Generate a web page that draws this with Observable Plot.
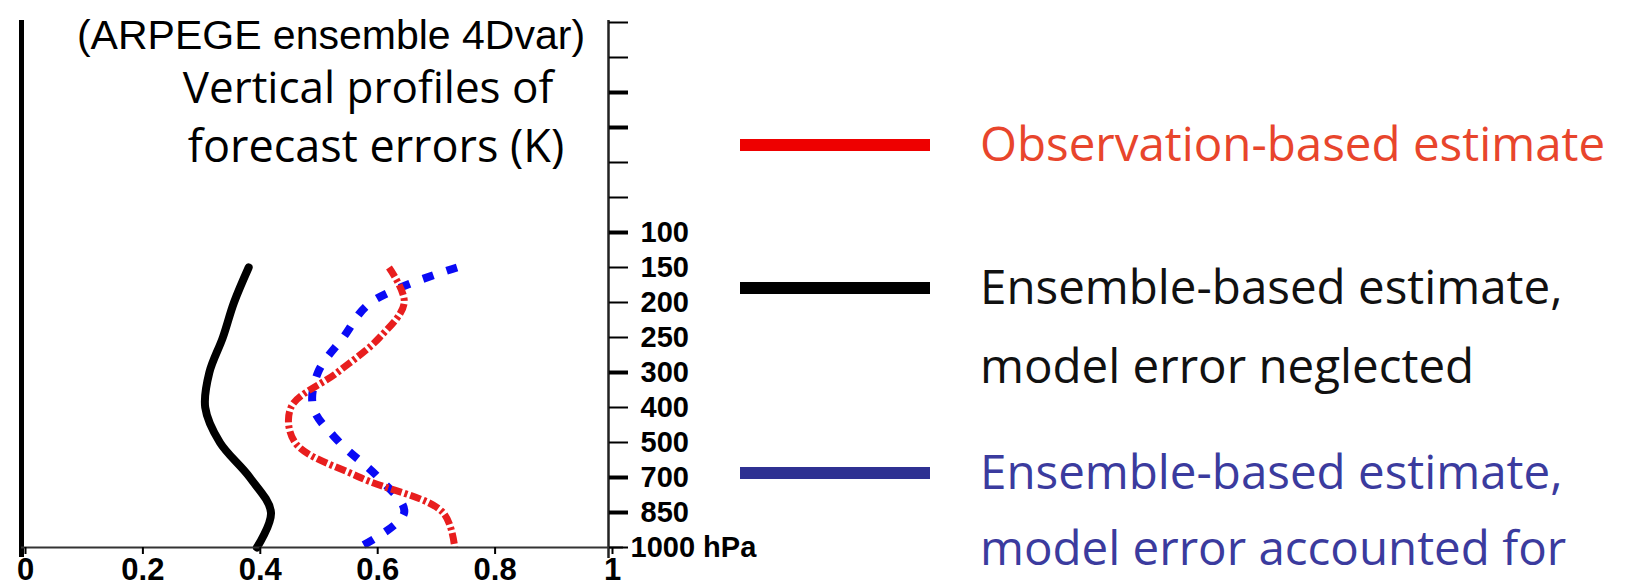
<!DOCTYPE html>
<html><head><meta charset="utf-8">
<script src="https://cdn.jsdelivr.net/npm/d3@7"></script>
<script src="https://cdn.jsdelivr.net/npm/@observablehq/plot@0.6"></script>
<style>
html,body{margin:0;padding:0;background:#fff;}
#wrap{position:relative;width:1634px;height:586px;overflow:hidden;}
.sw{position:absolute;left:740px;width:190px;height:12px;transform:translateY(-50%);}
.lt{position:absolute;left:980px;font-family:"Open Sans";font-size:47.5px;white-space:nowrap;line-height:1;transform:translateY(-55%);}
</style></head><body><div id="wrap"></div>
<script>
// pressure levels (hPa), top to bottom, evenly spaced on the axis
const levels = [5,10,20,30,50,70,100,150,200,250,300,400,500,700,850,1000];
const thickTickLevels = [20,30,100,300,700,850];
const profileLevels = [150,200,250,300,400,500,700,850,1000];
// forecast error std (K)
const obsErr        = [0.626,0.652,0.610,0.538,0.459,0.466,0.577,0.718,0.738];
const ensErrNoModel = [0.387,0.362,0.343,0.320,0.313,0.338,0.389,0.425,0.401];
const ensErrModel   = [0.742,0.595,0.548,0.505,0.497,0.542,0.608,0.652,0.575];
const xTicks = [0,0.2,0.4,0.6,0.8,1];
const titleLines = ["(ARPEGE ensemble 4Dvar)","Vertical profiles of","forecast errors (K)"];
const legendLabels = [
  ["Observation-based estimate"],
  ["Ensemble-based estimate,","model error neglected"],
  ["Ensemble-based estimate,","model error accounted for"]
];
const legendColors = ["#ee0000","#000000","#2e3192"];
const legendTextColors = ["#e8452c","#111111","#3b3b9e"];

const toRows = vals => profileLevels.map((p,i)=>({p, v: vals[i]}));
const labelLevels = levels.filter(d => d < 1000);

const chart = Plot.plot({
  width:1634, height:586,
  marginLeft:21, marginRight:1026, marginTop:21, marginBottom:39,
  x:{domain:[0,1], axis:null, label:null},
  y:{type:"point", domain:levels, padding:0, axis:null, label:null},
  style:{background:"#fff", fontFamily:"Liberation Sans", color:"#000"},
  marks:[
    Plot.line(toRows(ensErrNoModel), {x:"v", y:"p", stroke:"#000", strokeWidth:8, curve:"catmull-rom"}),
    Plot.line(toRows(ensErrModel), {x:"v", y:"p", stroke:"#0a0af5", strokeWidth:8, strokeDasharray:"11,14", strokeLinecap:"butt", curve:"catmull-rom"}),
    Plot.line(toRows(obsErr), {x:"v", y:"p", stroke:"#e81e1e", strokeWidth:7, strokeDasharray:"11,3,3,3", strokeLinecap:"butt", curve:"catmull-rom"}),
    Plot.ruleX([0], {stroke:"#000", strokeWidth:5, insetBottom:-10, insetTop:-1}),
    Plot.ruleX([1], {stroke:"#222", strokeWidth:2.5, insetBottom:-11, insetTop:-1}),
    Plot.ruleY([1000], {stroke:"#333", strokeWidth:2, insetRight:-15}),
    Plot.axisY({anchor:"right", ticks:labelLevels, tickSize:19, tickPadding:13, label:null,
      tickFormat: d => (d>=100 ? String(d) : ""),
      fontSize:29, fontWeight:"bold", strokeWidth:2}),
    Plot.axisY({anchor:"right", ticks:[1000], tickSize:19, tickPadding:3, label:null,
      tickFormat: d => d + " hPa", fontSize:29, fontWeight:"bold", strokeWidth:2}),
    Plot.axisY({anchor:"right", ticks:thickTickLevels, tickSize:19, label:null, tickFormat:()=>"", strokeWidth:4}),
    Plot.axisX({anchor:"bottom", ticks:xTicks, tickSize:7, tickPadding:3, label:null,
      tickFormat: d => String(d), fontSize:31, fontWeight:"bold", dx:4, strokeWidth:2}),
    Plot.text([titleLines[0]], {frameAnchor:"top", dx:16, dy:14, lineAnchor:"middle", fontSize:41, fontFamily:"Liberation Sans"}),
    Plot.text([titleLines[1]], {frameAnchor:"top", dx:53, dy:67, lineAnchor:"middle", fontSize:44, fontFamily:"Open Sans"}),
    Plot.text([titleLines[2]], {frameAnchor:"top", dx:61, dy:126, lineAnchor:"middle", fontSize:45, fontFamily:"Open Sans"})
  ]
});
const wrap = document.getElementById("wrap");
wrap.appendChild(chart);

// legend (HTML, to the right of the chart)
const swatchY = [145,288,473];
const lineY = [[145],[288,367],[473,549]];
const lg = d3.select(wrap);
legendLabels.forEach((lines,i)=>{
  lg.append("div").attr("class","sw").style("top",swatchY[i]+"px").style("background",legendColors[i]);
  lines.forEach((t,j)=>{
    lg.append("div").attr("class","lt").style("top",lineY[i][j]+"px").style("color",legendTextColors[i]).text(t);
  });
});
</script></body></html>
